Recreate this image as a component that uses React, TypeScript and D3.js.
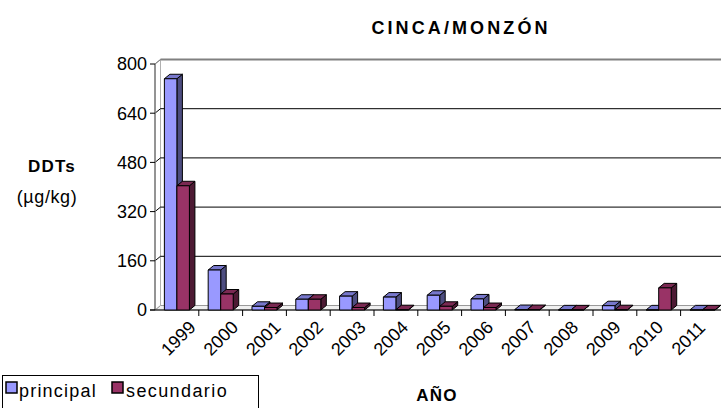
import React from "react";
import * as d3 from "d3";

const years = ["1999","2000","2001","2002","2003","2004","2005","2006","2007","2008","2009","2010","2011"];
const principal = [752, 130, 12, 35, 45, 42, 48, 36, 1.5, 0.5, 14, 0.5, 0.5];
const secundario = [404, 52, 8, 35, 8, 1, 12, 8, 1.5, 0.5, 1, 72, 0.5];
const yTicks = [0, 160, 320, 480, 640, 800];
const seriesNames = ["principal", "secundario"];

const W = 721, H = 408;
const X0 = 155, CAT_W = 43.8;
const Y0 = 310, YTOP = 64;
const DX = 5.5, DY = -4.5;
const FONT = "'Liberation Sans', Arial, sans-serif";

const colors = {
  principal: { front: "#9999FF", top: "#7777cc", side: "#4d4d80" },
  secundario: { front: "#993366", top: "#7a2952", side: "#4d1a33" },
} as Record<string, { front: string; top: string; side: string }>;

export default function App() {
  const x = d3.scaleBand<string>().domain(years).range([X0, X0 + CAT_W * years.length]).paddingInner(0).paddingOuter(0);
  const xs = d3.scaleBand<string>().domain(seriesNames).range([0, x.bandwidth()]).paddingInner(0).paddingOuter(0.75);
  const xl = d3.scalePoint<string>().domain(years).range([178, 688]);
  const y = d3.scaleLinear().domain([0, 800]).range([Y0, YTOP]);
  const xEnd = X0 + CAT_W * years.length;
  const bw = xs.bandwidth();
  const pts = (p: number[][]) => p.map(q => q.join(",")).join(" ");

  const bars: JSX.Element[] = [];
  years.forEach((yr, i) => {
    [principal, secundario].forEach((vals, s) => {
      const name = seriesNames[s];
      const c = colors[name];
      const bx = (x(yr) as number) + (xs(name) as number);
      const yv = y(vals[i]);
      const yb = y(0);
      bars.push(
        <g key={yr + name} stroke="#000" strokeWidth={1} strokeLinejoin="round">
          <polygon points={pts([[bx + bw, yv], [bx + bw + DX, yv + DY], [bx + bw + DX, yb + DY], [bx + bw, yb]])} fill={c.side} />
          <polygon points={pts([[bx, yv], [bx + DX, yv + DY], [bx + bw + DX, yv + DY], [bx + bw, yv]])} fill={c.top} />
          <rect x={bx} y={yv} width={bw} height={yb - yv} fill={c.front} />
        </g>
      );
    });
  });

  return (
    <svg width={W} height={H} style={{ position: "absolute", left: 0, top: 0, background: "#fff" }} fontFamily={FONT}>
      <defs>
        <clipPath id="clip"><rect x={0} y={0} width={W} height={H} /></clipPath>
      </defs>
      <rect x={0} y={0} width={W} height={H} fill="#fff" />
      <text x={461} y={34} textAnchor="middle" fontWeight="bold" fontSize={18} letterSpacing={3.1}>CINCA/MONZÓN</text>

      <g clipPath="url(#clip)">
        <polygon points={pts([[X0, Y0], [X0 + DX, Y0 + DY], [xEnd + DX, Y0 + DY], [xEnd, Y0]])} fill="#f0f0f0" stroke="#9a9a9a" strokeWidth={1} />
        <polygon points={pts([[X0, YTOP], [X0 + DX, YTOP + DY], [X0 + DX, Y0 + DY], [X0, Y0]])} fill="#fff" stroke="#9a9a9a" strokeWidth={1} />
        <line x1={X0 + DX} y1={YTOP + DY} x2={X0 + DX} y2={Y0 + DY} stroke="#b0b0b0" strokeWidth={1} />
        <line x1={X0} y1={YTOP} x2={X0 + DX} y2={YTOP + DY} stroke="#808080" strokeWidth={1} />
        <line x1={X0 + DX} y1={YTOP + DY} x2={xEnd + DX} y2={YTOP + DY} stroke="#808080" strokeWidth={2} />
        {yTicks.filter(t => t > 0 && t < 800).map(t => (
          <polyline key={t} points={pts([[X0, y(t)], [X0 + DX, y(t) + DY], [xEnd + DX, y(t) + DY]])} fill="none" stroke="#000" strokeWidth={1} />
        ))}
        <line x1={X0} y1={YTOP} x2={X0} y2={Y0} stroke="#808080" strokeWidth={1.5} />
        <line x1={X0 - 5} y1={Y0} x2={xEnd} y2={Y0} stroke="#000" strokeWidth={1} />
        {yTicks.map(t => (
          <line key={t} x1={X0 - 5} y1={y(t)} x2={X0} y2={y(t)} stroke="#000" strokeWidth={1} />
        ))}
        {years.map((yr) => (
          <line key={yr} x1={(x(yr) as number) + CAT_W} y1={Y0} x2={(x(yr) as number) + CAT_W} y2={Y0 + 6} stroke="#000" strokeWidth={1} />
        ))}
        {bars}
      </g>

      {yTicks.map(t => (
        <text key={t} x={147} y={y(t)} dy="0.36em" textAnchor="end" fontSize={18}>{t}</text>
      ))}
      {years.map(yr => {
        const cx = xl(yr) as number;
        const cy = 338;
        return (
          <text key={yr} x={cx} y={cy} dy="0.36em" textAnchor="middle" fontSize={18} transform={`rotate(-45 ${cx} ${cy})`}>{yr}</text>
        );
      })}

      <text x={52} y={172} textAnchor="middle" fontWeight="bold" fontSize={17} letterSpacing={1.2}>DDTs</text>
      <text x={47} y={203} textAnchor="middle" fontSize={18} letterSpacing={0.6}>(µg/kg)</text>

      <rect x={2.5} y={375.5} width={256} height={40} fill="#fff" stroke="#000" strokeWidth={1} />
      <rect x={6} y={382} width={11} height={11} fill={colors.principal.front} stroke="#000" strokeWidth={1.5} />
      <text x={19} y={397} fontSize={18} letterSpacing={1.2}>principal</text>
      <rect x={112} y={382} width={11} height={11} fill={colors.secundario.front} stroke="#000" strokeWidth={1.5} />
      <text x={126} y={397} fontSize={18} letterSpacing={1.4}>secundario</text>

      <text x={437} y={401} textAnchor="middle" fontWeight="bold" fontSize={17} letterSpacing={1.2}>AÑO</text>
    </svg>
  );
}
